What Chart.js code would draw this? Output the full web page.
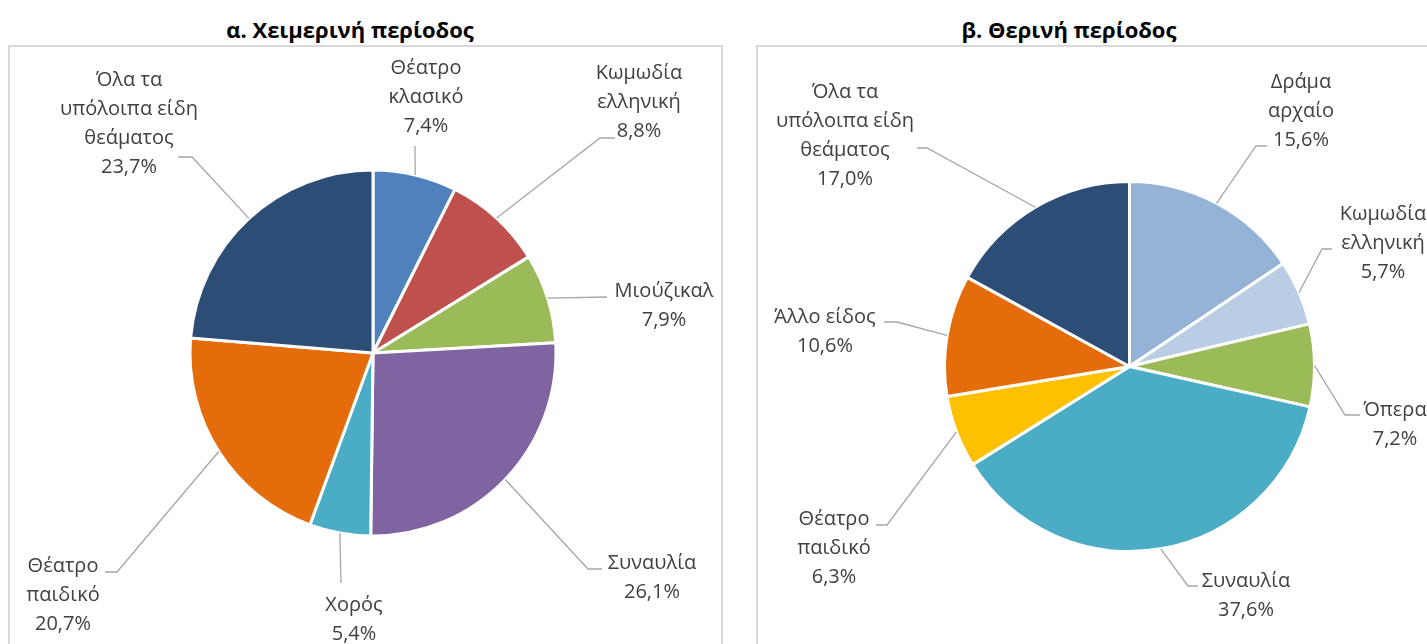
<!DOCTYPE html>
<html>
<head>
<meta charset="utf-8">
<script src="https://cdn.jsdelivr.net/npm/chart.js@4.4.1/dist/chart.umd.min.js"></script>
<style>
  html, body { margin:0; padding:0; background:#fff; width:1427px; height:644px; overflow:hidden; position:relative; font-family:'Open Sans', sans-serif; }
  .box { position:absolute; border:2px solid #D9D9D9; box-sizing:border-box; background:#fff; }
  .title { position:absolute; transform:translateX(-50%); white-space:nowrap; font-weight:700; font-size:22px; color:#000; line-height:26px; }
  canvas { position:absolute; left:0; top:0; }
</style>
</head>
<body>
<div class="box" style="left:8px; top:45px; width:715px; height:640px;"></div>
<div class="box" style="left:756px; top:45px; width:700px; height:640px;"></div>
<div class="title" style="left:350px; top:16px;">α. Χειμερινή περίοδος</div>
<div class="title" style="left:1069px; top:16px;">β. Θερινή περίοδος</div>
<canvas id="c1" width="1427" height="644"></canvas>
<canvas id="c2" width="1427" height="644"></canvas>
<script>
// ---- Data ----
const winterCategories = [["Θέατρο","κλασικό"],["Κωμωδία","ελληνική"],["Μιούζικαλ"],["Συναυλία"],["Χορός"],["Θέατρο","παιδικό"],["Όλα τα","υπόλοιπα είδη","θεάματος"]];
const winterValues = [7.4, 8.8, 7.9, 26.1, 5.4, 20.7, 23.7];
const winterColors = ["#4F81BD","#C0504D","#9BBB59","#8064A2","#4BACC6","#E46C0A","#2C4D75"];

const summerCategories = [["Δράμα","αρχαίο"],["Κωμωδία","ελληνική"],["Όπερα"],["Συναυλία"],["Θέατρο","παιδικό"],["Άλλο είδος"],["Όλα τα","υπόλοιπα είδη","θεάματος"]];
const summerValues = [15.6, 5.7, 7.2, 37.6, 6.3, 10.6, 17.0];
const summerColors = ["#95B3D7","#B9CDE5","#9BBB59","#4BACC6","#FFC000","#E46C0A","#2C4D75"];

// ---- Label layout (page px): first-line centre and leader path after the slice edge ----
const winterLabelLayout = [
  {x:426, y:68,  pts:[[415,146]]},
  {x:639, y:73,  pts:[[600,138],[615,138]]},
  {x:664, y:291, pts:[[607,297]]},
  {x:652, y:563, pts:[[588,569],[602,569]]},
  {x:354, y:605, pts:[[341,583]]},
  {x:63,  y:566, pts:[[117,572],[105,572]]},
  {x:129, y:80,  pts:[[192,157],[178,157]]}
];
const summerLabelLayout = [
  {x:1301, y:82,  pts:[[1256,146],[1267,146]]},
  {x:1383, y:214, pts:[[1322,249],[1332,249]]},
  {x:1395, y:410, pts:[[1345,415],[1360,415]]},
  {x:1246, y:581, pts:[[1188,586],[1198,586]]},
  {x:834,  y:519, pts:[[887,525],[876,525]]},
  {x:825,  y:317, pts:[[897,322],[884,322]]},
  {x:845,  y:92,  pts:[[927,148],[917,148]]}
];

const LINE_H = 29;
const fmt = v => v.toFixed(1).replace('.', ',') + '%';

const labelPlugin = {
  id: 'outLabels',
  afterDraw(chart, args, opts) {
    const ctx = chart.ctx;
    const meta = chart.getDatasetMeta(0);
    const values = chart.data.datasets[0].data;
    const cats = chart.data.labels;
    ctx.save();
    meta.data.forEach((arc, i) => {
      const L = opts.layout[i];
      const mid = (arc.startAngle + arc.endAngle) / 2;
      const sx = arc.x + Math.cos(mid) * arc.outerRadius;
      const sy = arc.y + Math.sin(mid) * arc.outerRadius;
      ctx.beginPath();
      ctx.moveTo(sx, sy);
      L.pts.forEach(p => ctx.lineTo(p[0], p[1]));
      ctx.strokeStyle = '#A6A6A6';
      ctx.lineWidth = 1.3;
      ctx.stroke();
      const lines = [].concat(cats[i], [fmt(values[i])]);
      ctx.fillStyle = '#404040';
      ctx.font = "20px 'Open Sans'";
      ctx.textAlign = 'center';
      ctx.textBaseline = 'middle';
      lines.forEach((t, k) => ctx.fillText(t, L.x, L.y + k * LINE_H));
    });
    ctx.restore();
  }
};

function makePie(id, cats, vals, cols, radius, padding, layout) {
  return new Chart(document.getElementById(id), {
    type: 'pie',
    data: { labels: cats, datasets: [{ data: vals, backgroundColor: cols, borderColor: '#FFFFFF', borderWidth: 3, hoverBorderWidth: 3, hoverOffset: 0, offset: 0, radius: radius }] },
    options: {
      responsive: false, animation: false, events: [],
      layout: { padding: padding },
      plugins: { legend: { display: false }, tooltip: { enabled: false }, title: { display: false }, outLabels: { layout: layout } }
    },
    plugins: [labelPlugin]
  });
}

makePie('c1', winterCategories, winterValues, winterColors, 183, {left:173, right:854, top:153, bottom:91}, winterLabelLayout);
makePie('c2', summerCategories, summerValues, summerColors, 185, {left:929.5, right:97.5, top:166.5, bottom:77.5}, summerLabelLayout);
</script>
</body>
</html>
